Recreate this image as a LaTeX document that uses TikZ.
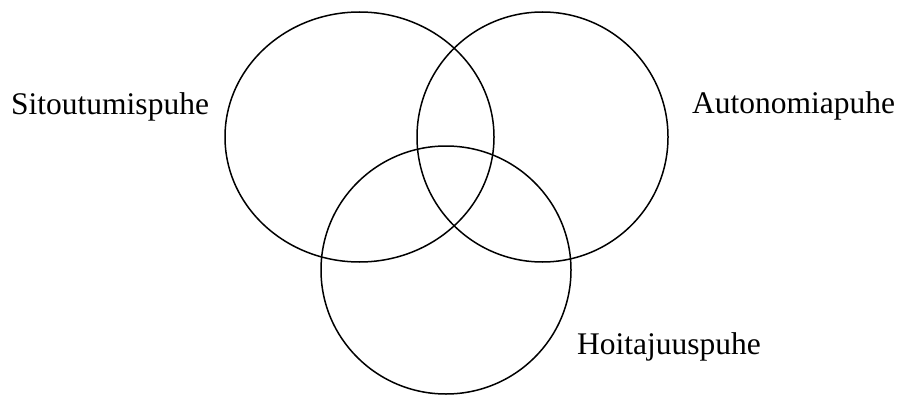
\documentclass[tikz,border=0pt]{standalone}
\usepackage{fontspec}
\setmainfont{Liberation Serif}
\usetikzlibrary{shapes.geometric}
\begin{document}
\begin{tikzpicture}[x=1pt,y=-1pt,
  venn/.style={draw=black, line width=1.5pt, ellipse, inner sep=0pt},
  lbl/.style={inner sep=0pt, anchor=base west, font=\fontsize{31.5}{38}\selectfont}]
\useasboundingbox (0,0) rectangle (899,396);
\node[venn, minimum width=269pt, minimum height=250pt] (sit) at (359.5,137) {};
\node[venn, minimum width=251pt, minimum height=250pt] (aut) at (542.5,137) {};
\node[venn, minimum width=250pt, minimum height=248pt] (hoi) at (446,270) {};
\node[lbl] (tsit) at (11,114) {Sitoutumispuhe};
\node[lbl] (taut) at (692,113) {Autonomiapuhe};
\node[lbl] (thoi) at (577,354) {Hoitajuuspuhe};
\end{tikzpicture}
\end{document}
